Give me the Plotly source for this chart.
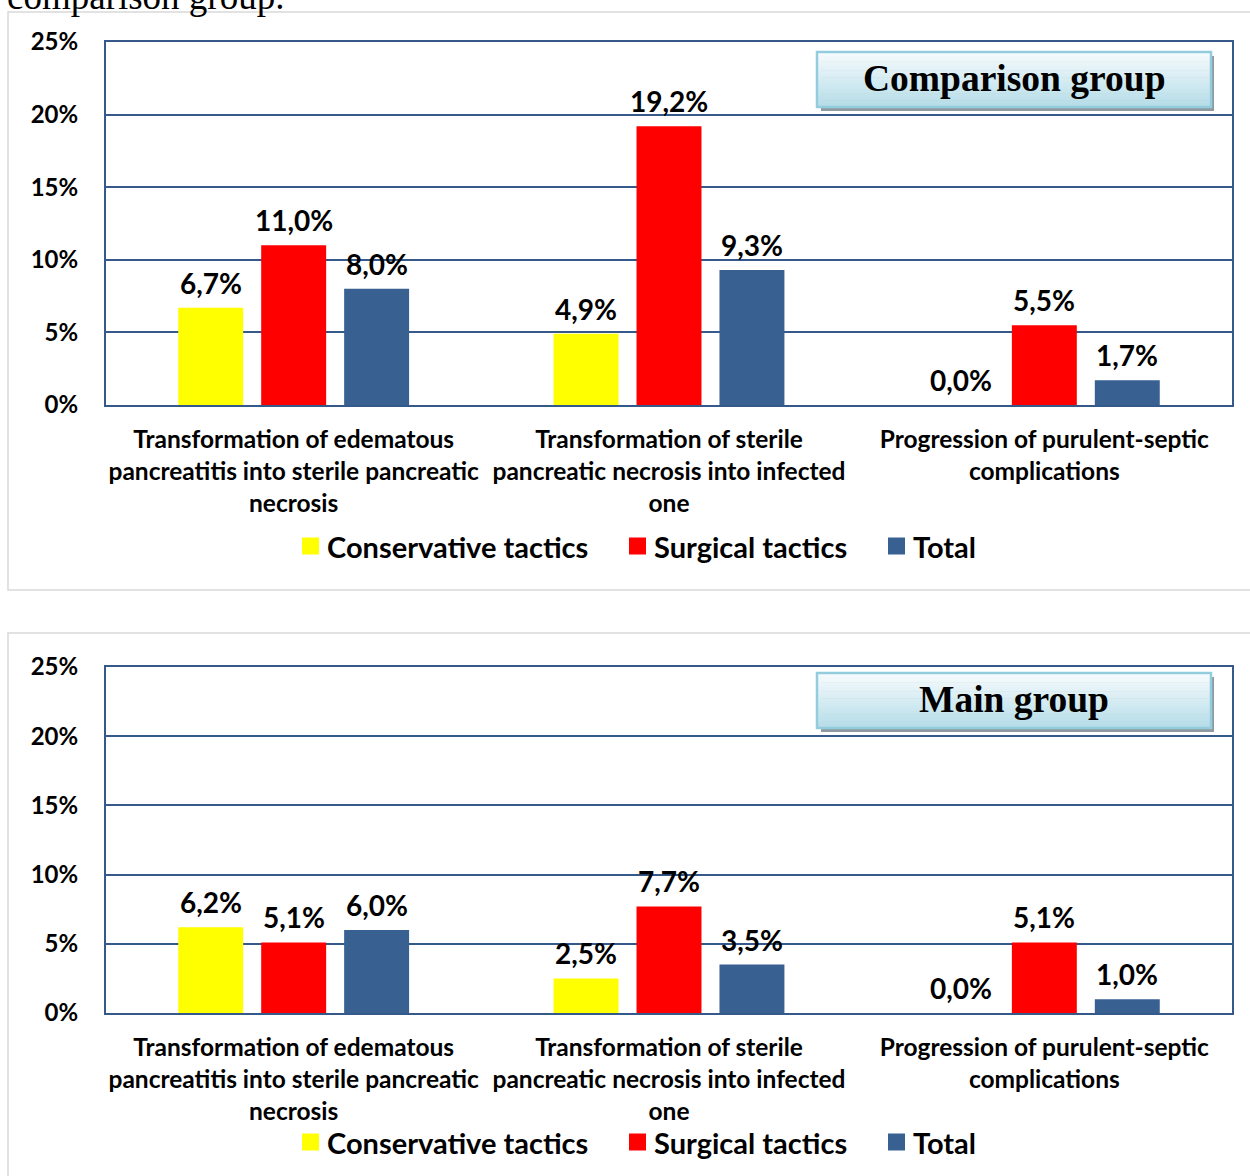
import plotly.graph_objects as go

# ---------------- data ----------------
categories = [
    "Transformation of edematous<br>pancreatitis into sterile pancreatic<br>necrosis",
    "Transformation of sterile<br>pancreatic necrosis into infected<br>one",
    "Progression of purulent-septic<br>complications",
]
series_names = ["Conservative tactics", "Surgical tactics", "Total"]
comparison_conservative = [6.7, 4.9, 0.0]
comparison_surgical = [11.0, 19.2, 5.5]
comparison_total = [8.0, 9.3, 1.7]
main_conservative = [6.2, 2.5, 0.0]
main_surgical = [5.1, 7.7, 5.1]
main_total = [6.0, 3.5, 1.0]
tick_values = [0, 5, 10, 15, 20, 25]
tick_labels = ["0%", "5%", "10%", "15%", "20%", "25%"]
panel_titles = ["Comparison group", "Main group"]
caption_text = "comparison group."

# ---------------- styling ----------------
W, H = 1250, 1176
colors = ["#FFFF00", "#FF0000", "#386192"]
axis_blue = "#35598A"
sans = "Lato"
serif = "Liberation Serif"
PLOT_X0, PLOT_X1 = 106, 1232
BARGAP, BARGROUPGAP = 0.337, 0.217


def px(x):
    return x / W


def py(y):
    return 1 - y / H


cat_px = (PLOT_X1 - PLOT_X0) / len(categories)
slot_px = cat_px * (1 - BARGAP) / len(series_names)

fig = go.Figure()

panels = [
    dict(vals=[comparison_conservative, comparison_surgical, comparison_total],
         xa="x", ya="y", top=42, bottom=405, legend_y=546,
         frame=(8, 12, 1262, 590), box=(817, 52, 1211, 107)),
    dict(vals=[main_conservative, main_surgical, main_total],
         xa="x2", ya="y2", top=667, bottom=1013, legend_y=1142,
         frame=(8, 633, 1262, 1195), box=(817, 673, 1211, 728)),
]

legend_sq_x = [302, 629, 888]
legend_sq = 17

shapes = []
annotations = []

for i, p in enumerate(panels):
    for j, (name, vals, col) in enumerate(zip(series_names, p["vals"], colors)):
        fig.add_trace(go.Bar(
            x=categories, y=vals, name=name,
            marker=dict(color=col, line=dict(width=0)),
            xaxis=p["xa"], yaxis=p["ya"], showlegend=False,
            hoverinfo="skip",
        ))
        # value labels above bars
        for c, v in zip(categories, vals):
            annotations.append(dict(
                xref=p["xa"], yref=p["ya"], x=c, y=v,
                xshift=(j - 1) * slot_px, yshift=6,
                text=("%.1f%%" % v).replace(".", ","), showarrow=False,
                xanchor="center", yanchor="bottom",
                font=dict(family=sans, size=28, color="black", weight="bold")))
        # manual legend entry
        lx = legend_sq_x[j]
        ly = p["legend_y"]
        shapes.append(dict(type="rect", xref="paper", yref="paper",
                           x0=px(lx), x1=px(lx + legend_sq),
                           y0=py(ly - legend_sq / 2), y1=py(ly + legend_sq / 2),
                           line=dict(width=0), fillcolor=col))
        annotations.append(dict(xref="paper", yref="paper",
                                x=px(lx + legend_sq + 6), y=py(ly),
                                text=name, showarrow=False,
                                xanchor="left", yanchor="middle",
                                font=dict(family=sans, size=29, color="black", weight="bold")))
    # outer light-gray frame
    fx0, fy0, fx1, fy1 = p["frame"]
    shapes.append(dict(type="rect", xref="paper", yref="paper", layer="below",
                       x0=px(fx0), x1=px(fx1), y0=py(fy0), y1=py(fy1),
                       line=dict(color="#D9D9D9", width=1.5), fillcolor="white"))
    # title box: shadow, gradient, border
    bx0, by0, bx1, by1 = p["box"]
    shapes.append(dict(type="rect", xref="paper", yref="paper",
                       x0=px(bx0 + 4), x1=px(bx1 + 3), y0=py(by0 + 4), y1=py(by1 + 4),
                       line=dict(width=0), fillcolor="#8E9AA0"))
    n = 24
    c_top = (246, 251, 253)
    c_bot = (182, 221, 232)
    for k in range(n):
        t = k / (n - 1)
        c = tuple(round(c_top[m] + (c_bot[m] - c_top[m]) * t) for m in range(3))
        ya0 = by0 + (by1 - by0) * k / n
        ya1 = by0 + (by1 - by0) * (k + 1) / n
        shapes.append(dict(type="rect", xref="paper", yref="paper",
                           x0=px(bx0), x1=px(bx1), y0=py(ya0), y1=py(ya1 + 0.5),
                           line=dict(width=0), fillcolor="rgb(%d,%d,%d)" % c))
    shapes.append(dict(type="rect", xref="paper", yref="paper",
                       x0=px(bx0), x1=px(bx1), y0=py(by0), y1=py(by1),
                       line=dict(color="#93CDDD", width=2.5), fillcolor="rgba(0,0,0,0)"))
    annotations.append(dict(xref="paper", yref="paper",
                            x=px((bx0 + bx1) / 2), y=py((by0 + by1) / 2 - 1),
                            text=panel_titles[i], showarrow=False,
                            xanchor="center", yanchor="middle",
                            font=dict(family=serif, size=37.5, color="black", weight="bold")))

# caption fragment cut at the top of the image (as in the source page)
annotations.append(dict(xref="paper", yref="paper", x=px(5), y=py(19),
                        text=caption_text, showarrow=False,
                        xanchor="left", yanchor="bottom",
                        font=dict(family=serif, size=37, color="black")))

axis_common_x = dict(showline=True, mirror=True, linecolor=axis_blue, linewidth=2,
                     showgrid=False, ticks="", ticklabelstandoff=12, automargin=False,
                     tickfont=dict(family=sans, size=24.5, color="black", weight="bold"))
axis_common_y = dict(showline=True, mirror=True, linecolor=axis_blue, linewidth=2,
                     showgrid=True, gridcolor=axis_blue, gridwidth=1.5,
                     range=[0, 25], tickvals=tick_values, ticktext=tick_labels,
                     ticks="", ticklabelstandoff=21, zeroline=False, automargin=False,
                     tickfont=dict(family=sans, size=24, color="black", weight="bold"))

fig.update_layout(
    width=W, height=H,
    margin=dict(l=0, r=0, t=0, b=0),
    paper_bgcolor="white", plot_bgcolor="white",
    barmode="group", bargap=BARGAP, bargroupgap=BARGROUPGAP,
    showlegend=False,
    xaxis=dict(domain=[px(PLOT_X0), px(PLOT_X1)], anchor="y", **axis_common_x),
    yaxis=dict(domain=[py(405), py(42)], anchor="x", **axis_common_y),
    xaxis2=dict(domain=[px(PLOT_X0), px(PLOT_X1)], anchor="y2", **axis_common_x),
    yaxis2=dict(domain=[py(1013), py(667)], anchor="x2", **axis_common_y),
    shapes=shapes,
    annotations=annotations,
)

fig.write_html("out.html")
